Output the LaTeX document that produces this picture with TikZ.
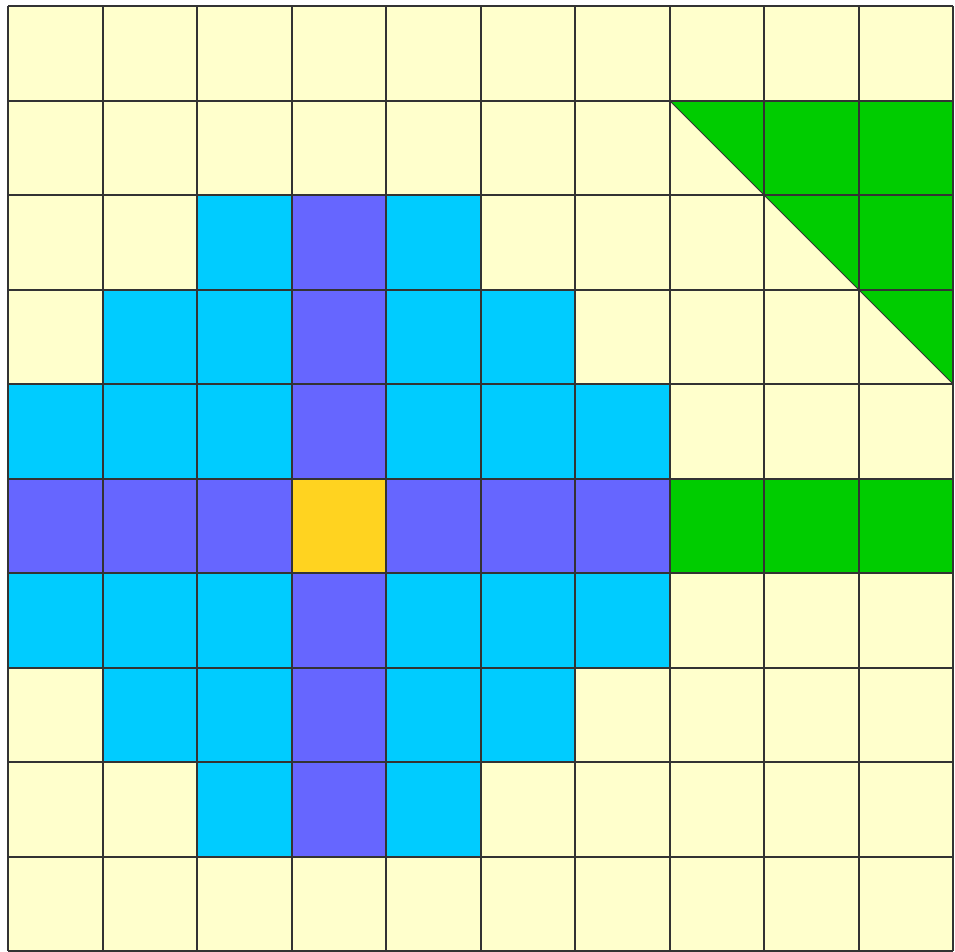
\documentclass[tikz,border=0pt]{standalone}
\definecolor{yel}{HTML}{FFFFCC}
\definecolor{cya}{HTML}{00CCFF}
\definecolor{pur}{HTML}{6666FF}
\definecolor{gol}{HTML}{FFD320}
\definecolor{grn}{HTML}{00CC00}
\definecolor{ln}{HTML}{333333}
\tikzset{gridline/.style={draw=ln,line width=2pt},diag/.style={draw=ln,line width=1pt}}
\def\tri{tri}
\begin{document}
\begin{tikzpicture}[x=1pt,y=-1pt]
\useasboundingbox (0,0) rectangle (955,951);
\def\cs{94.5}
\def\ox{8}
\def\oy{6}
\foreach \r/\row in {
 0/{yel,yel,yel,yel,yel,yel,yel,yel,yel,yel},
 1/{yel,yel,yel,yel,yel,yel,yel,tri,grn,grn},
 2/{yel,yel,cya,pur,cya,yel,yel,yel,tri,grn},
 3/{yel,cya,cya,pur,cya,cya,yel,yel,yel,tri},
 4/{cya,cya,cya,pur,cya,cya,cya,yel,yel,yel},
 5/{pur,pur,pur,gol,pur,pur,pur,grn,grn,grn},
 6/{cya,cya,cya,pur,cya,cya,cya,yel,yel,yel},
 7/{yel,cya,cya,pur,cya,cya,yel,yel,yel,yel},
 8/{yel,yel,cya,pur,cya,yel,yel,yel,yel,yel},
 9/{yel,yel,yel,yel,yel,yel,yel,yel,yel,yel}}{
  \foreach \k [count=\c from 0] in \row {
    \pgfmathsetmacro{\xa}{\ox+\c*\cs}
    \pgfmathsetmacro{\ya}{\oy+\r*\cs}
    \pgfmathsetmacro{\xb}{\xa+\cs}
    \pgfmathsetmacro{\yb}{\ya+\cs}
    \ifx\k\tri
      \fill[fill=yel] (\xa,\ya) rectangle (\xb,\yb);
      \fill[fill=grn] (\xa,\ya) -- (\xb,\ya) -- (\xb,\yb) -- cycle;
      \draw[diag] (\xa,\ya) -- (\xb,\yb);
    \else
      \fill[fill=\k] (\xa,\ya) rectangle (\xb,\yb);
    \fi
  }
}
\foreach \i in {0,...,10}{
  \pgfmathsetmacro{\p}{\ox+\i*\cs}
  \pgfmathsetmacro{\q}{\oy+\i*\cs}
  \draw[gridline] (\p,\oy) -- (\p,\oy+945);
  \draw[gridline] (\ox,\q) -- (\ox+945,\q);
}
\end{tikzpicture}
\end{document}
